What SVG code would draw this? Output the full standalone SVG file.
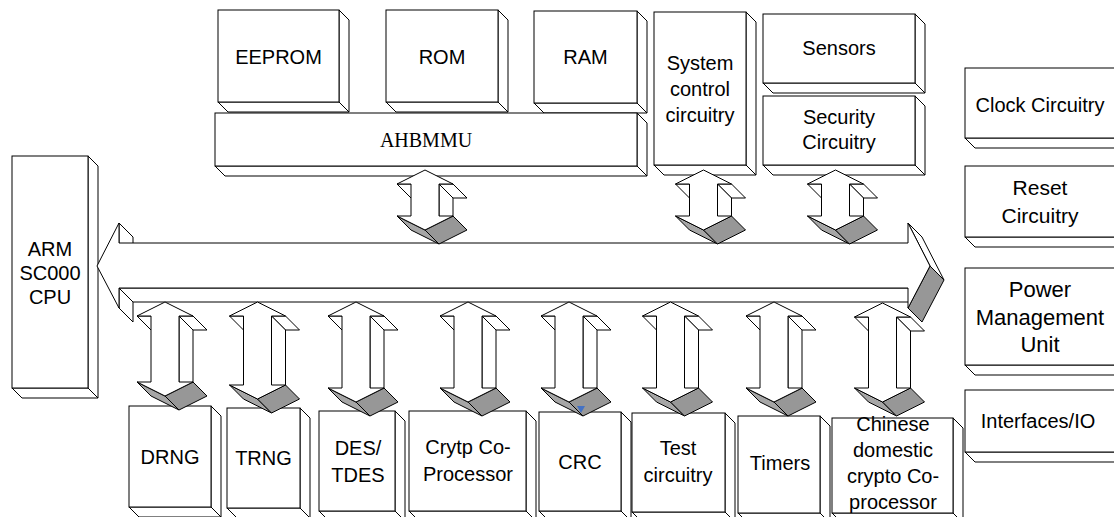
<svg xmlns="http://www.w3.org/2000/svg" width="1114" height="517" viewBox="0 0 1114 517">
<style>
.f{fill:#fff;stroke:#000;stroke-width:1;stroke-linejoin:miter}
.g1{fill:#a6a6a6;stroke:#000;stroke-width:1}
.g2{fill:#979797;stroke:#000;stroke-width:1}
.t{font-family:"Liberation Sans",Arial,sans-serif;font-size:20px;text-anchor:middle;fill:#000}
.s{font-family:"Liberation Serif","Times New Roman",serif;font-size:20px;text-anchor:middle;fill:#000}
</style>
<rect width="1114" height="517" fill="#fff"/>

<g id="eeprom">
<polygon class="f" points="339,10 349,20 349,112 339,102"/>
<polygon class="f" points="218,102 339,102 349,112 228,112"/>
<rect class="f" x="218" y="10" width="121" height="92"/>
<text class="t" x="278.5" y="64">EEPROM</text>
</g>
<g id="rom">
<polygon class="f" points="498,10 508,20 508,112 498,102"/>
<polygon class="f" points="386,102 498,102 508,112 396,112"/>
<rect class="f" x="386" y="10" width="112" height="92"/>
<text class="t" x="442" y="64">ROM</text>
</g>
<g id="ram">
<polygon class="f" points="637,11 647,21 647,113 637,103"/>
<polygon class="f" points="534,103 637,103 647,113 544,113"/>
<rect class="f" x="534" y="11" width="103" height="92"/>
<text class="t" x="585.5" y="64">RAM</text>
</g>
<g id="ahbmmu">
<polygon class="f" points="637,113 647,123 647,176 637,166"/>
<polygon class="f" points="215,166 637,166 647,176 225,176"/>
<rect class="f" x="215" y="113" width="422" height="53"/>
<text class="s" x="426" y="147">AHBMMU</text>
</g>
<g id="system-control">
<polygon class="f" points="746,12 756,22 756,175 746,165"/>
<polygon class="f" points="654,165 746,165 756,175 664,175"/>
<rect class="f" x="654" y="12" width="92" height="153"/>
<text class="t" x="700" y="70">System</text>
<text class="t" x="700" y="96">control</text>
<text class="t" x="700" y="122">circuitry</text>
</g>
<g id="sensors">
<polygon class="f" points="915,14 925,24 925,93 915,83"/>
<polygon class="f" points="763,83 915,83 925,93 773,93"/>
<rect class="f" x="763" y="14" width="152" height="69"/>
<text class="t" x="839" y="55">Sensors</text>
</g>
<g id="security">
<polygon class="f" points="915,96 925,106 925,175 915,165"/>
<polygon class="f" points="763,165 915,165 925,175 773,175"/>
<rect class="f" x="763" y="96" width="152" height="69"/>
<text class="t" x="839" y="124">Security</text>
<text class="t" x="839" y="149">Circuitry</text>
</g>
<g id="arm-cpu">
<polygon class="f" points="88,156 98,166 98,398 88,388"/>
<polygon class="f" points="12,388 88,388 98,398 22,398"/>
<rect class="f" x="12" y="156" width="76" height="232"/>
<text class="t" x="50" y="256">ARM</text>
<text class="t" x="50" y="280">SC000</text>
<text class="t" x="50" y="304">CPU</text>
</g>
<g id="clock">
<polygon class="f" points="965,138 1120,138 1130,148 975,148"/>
<rect class="f" x="965" y="68" width="155" height="70"/>
<text class="t" x="1040" y="112">Clock Circuitry</text>
</g>
<g id="reset">
<polygon class="f" points="965,237 1120,237 1130,247 975,247"/>
<rect class="f" x="965" y="166" width="155" height="71"/>
<text class="t" x="1040" y="195" style="font-size:21px">Reset</text>
<text class="t" x="1040" y="223" style="font-size:21px">Circuitry</text>
</g>
<g id="power">
<polygon class="f" points="965,365 1120,365 1130,375 975,375"/>
<rect class="f" x="965" y="268" width="155" height="97"/>
<text class="t" x="1040" y="297" style="font-size:22px">Power</text>
<text class="t" x="1040" y="325" style="font-size:22px">Management</text>
<text class="t" x="1040" y="352" style="font-size:22px">Unit</text>
</g>
<g id="interfaces">
<polygon class="f" points="965,452 1120,452 1130,462 975,462"/>
<rect class="f" x="965" y="390" width="155" height="62"/>
<text class="t" x="1038" y="428">Interfaces/IO</text>
</g>

<g id="drng">
<polygon class="f" points="211,406 221,416 221,517 211,507"/>
<polygon class="f" points="129,507 211,507 221,517 139,517"/>
<rect class="f" x="129" y="406" width="82" height="101"/>
<text class="t" x="170" y="464">DRNG</text>
</g>
<g id="trng">
<polygon class="f" points="300,408 310,418 310,518 300,508"/>
<polygon class="f" points="227,508 300,508 310,518 237,518"/>
<rect class="f" x="227" y="408" width="73" height="100"/>
<text class="t" x="263.5" y="465">TRNG</text>
</g>
<g id="des-tdes">
<polygon class="f" points="395,411 405,421 405,521 395,511"/>
<polygon class="f" points="319,511 395,511 405,521 329,521"/>
<rect class="f" x="319" y="411" width="76" height="100"/>
<text class="t" x="358" y="455">DES/</text>
<text class="t" x="358" y="481.5">TDES</text>
</g>
<g id="crypto-coprocessor">
<polygon class="f" points="526,411 536,421 536,521 526,511"/>
<polygon class="f" points="409,511 526,511 536,521 419,521"/>
<rect class="f" x="409" y="411" width="117" height="100"/>
<text class="t" x="468" y="453.5">Crytp Co-</text>
<text class="t" x="468" y="480.5">Processor</text>
</g>
<g id="crc">
<polygon class="f" points="621,412 631,422 631,521 621,511"/>
<polygon class="f" points="539,511 621,511 631,521 549,521"/>
<rect class="f" x="539" y="412" width="82" height="99"/>
<text class="t" x="580" y="469">CRC</text>
</g>
<g id="test">
<polygon class="f" points="725,413 735,423 735,522 725,512"/>
<polygon class="f" points="632,512 725,512 735,522 642,522"/>
<rect class="f" x="632" y="413" width="93" height="99"/>
<text class="t" x="678" y="455">Test</text>
<text class="t" x="678" y="481.5">circuitry</text>
</g>
<g id="timers">
<polygon class="f" points="820,416 830,426 830,523 820,513"/>
<polygon class="f" points="738,513 820,513 830,523 748,523"/>
<rect class="f" x="738" y="416" width="82" height="97"/>
<text class="t" x="780" y="470">Timers</text>
</g>
<g id="chinese-crypto">
<polygon class="f" points="953,418 963,428 963,523 953,513"/>
<polygon class="f" points="832,513 953,513 963,523 842,523"/>
<rect class="f" x="832" y="418" width="121" height="95"/>
<text class="t" x="893" y="431">Chinese</text>
<text class="t" x="893" y="457">domestic</text>
<text class="t" x="893" y="483">crypto Co-</text>
<text class="t" x="893" y="509">processor</text>
</g>

<g id="connectors">
<g id="bus">
<polygon class="f" points="119,223 133,237 133,257 119,243"/>
<polygon class="f" points="119,288 133,302 133,322 119,308"/>
<polygon class="f" points="119,288 908,288 922,302 133,302"/>
<polygon class="f" points="908,223 922,237 944,280 930,266"/>
<polygon class="g2" points="930,266 944,280 922,322 908,308"/>
<polygon class="f" points="97,266 119,223 119,243 908,243 908,223 930,266 908,308 908,288 119,288 119,308"/>
</g>
<g id="arrow-ahbmmu" transform="translate(425,170)">
<polygon class="f" points="-28,14 -14,14 0,28 -14,28"/>
<polygon class="f" points="14,14 28,14 42,28 28,28"/>
<polygon class="f" points="14,14 28,28 28,60 14,46"/>
<polygon class="g1" points="-28,46 0,60 14,74 -14,60"/>
<polygon class="g2" points="0,60 28,46 42,60 14,74"/>
<polygon class="f" points="0,0 28,14 14,14 14,46 28,46 0,60 -28,46 -14,46 -14,14 -28,14"/>
</g>
<g id="arrow-system" transform="translate(703.5,170)">
<polygon class="f" points="-28,14 -14,14 0,28 -14,28"/>
<polygon class="f" points="14,14 28,14 42,28 28,28"/>
<polygon class="f" points="14,14 28,28 28,60 14,46"/>
<polygon class="g1" points="-28,46 0,60 14,74 -14,60"/>
<polygon class="g2" points="0,60 28,46 42,60 14,74"/>
<polygon class="f" points="0,0 28,14 14,14 14,46 28,46 0,60 -28,46 -14,46 -14,14 -28,14"/>
</g>
<g id="arrow-security" transform="translate(835.5,170)">
<polygon class="f" points="-28,14 -14,14 0,28 -14,28"/>
<polygon class="f" points="14,14 28,14 42,28 28,28"/>
<polygon class="f" points="14,14 28,28 28,60 14,46"/>
<polygon class="g1" points="-28,46 0,60 14,74 -14,60"/>
<polygon class="g2" points="0,60 28,46 42,60 14,74"/>
<polygon class="f" points="0,0 28,14 14,14 14,46 28,46 0,60 -28,46 -14,46 -14,14 -28,14"/>
</g>
<g id="arrow-drng" transform="translate(165,302)">
<polygon class="f" points="-28,14 -14,14 0,28 -14,28"/>
<polygon class="f" points="14,14 28,14 42,28 28,28"/>
<polygon class="f" points="14,14 28,28 28,94 14,80"/>
<polygon class="g1" points="-28,80 0,94 14,108 -14,94"/>
<polygon class="g2" points="0,94 28,80 42,94 14,108"/>
<polygon class="f" points="0,0 28,14 14,14 14,80 28,80 0,94 -28,80 -14,80 -14,14 -28,14"/>
</g>
<g id="arrow-trng" transform="translate(257.5,302)">
<polygon class="f" points="-28,14 -14,14 0,28 -14,28"/>
<polygon class="f" points="14,14 28,14 42,28 28,28"/>
<polygon class="f" points="14,14 28,28 28,97 14,83"/>
<polygon class="g1" points="-28,83 0,97 14,111 -14,97"/>
<polygon class="g2" points="0,97 28,83 42,97 14,111"/>
<polygon class="f" points="0,0 28,14 14,14 14,83 28,83 0,97 -28,83 -14,83 -14,14 -28,14"/>
</g>
<g id="arrow-des" transform="translate(356,302)">
<polygon class="f" points="-28,14 -14,14 0,28 -14,28"/>
<polygon class="f" points="14,14 28,14 42,28 28,28"/>
<polygon class="f" points="14,14 28,28 28,100 14,86"/>
<polygon class="g1" points="-28,86 0,100 14,114 -14,100"/>
<polygon class="g2" points="0,100 28,86 42,100 14,114"/>
<polygon class="f" points="0,0 28,14 14,14 14,86 28,86 0,100 -28,86 -14,86 -14,14 -28,14"/>
</g>
<g id="arrow-crypto" transform="translate(468,302)">
<polygon class="f" points="-28,14 -14,14 0,28 -14,28"/>
<polygon class="f" points="14,14 28,14 42,28 28,28"/>
<polygon class="f" points="14,14 28,28 28,100 14,86"/>
<polygon class="g1" points="-28,86 0,100 14,114 -14,100"/>
<polygon class="g2" points="0,100 28,86 42,100 14,114"/>
<polygon class="f" points="0,0 28,14 14,14 14,86 28,86 0,100 -28,86 -14,86 -14,14 -28,14"/>
</g>
<g id="arrow-crc" transform="translate(569,302)">
<polygon class="f" points="-28,14 -14,14 0,28 -14,28"/>
<polygon class="f" points="14,14 28,14 42,28 28,28"/>
<polygon class="f" points="14,14 28,28 28,100 14,86"/>
<polygon class="g1" points="-28,86 0,100 14,114 -14,100"/>
<polygon class="g2" points="0,100 28,86 42,100 14,114"/>
<polygon class="f" points="0,0 28,14 14,14 14,86 28,86 0,100 -28,86 -14,86 -14,14 -28,14"/>
<polygon points="8,104 16,104 12,111" fill="#4472c4"/>
</g>
<g id="arrow-test" transform="translate(670.5,302)">
<polygon class="f" points="-28,14 -14,14 0,28 -14,28"/>
<polygon class="f" points="14,14 28,14 42,28 28,28"/>
<polygon class="f" points="14,14 28,28 28,100 14,86"/>
<polygon class="g1" points="-28,86 0,100 14,114 -14,100"/>
<polygon class="g2" points="0,100 28,86 42,100 14,114"/>
<polygon class="f" points="0,0 28,14 14,14 14,86 28,86 0,100 -28,86 -14,86 -14,14 -28,14"/>
</g>
<g id="arrow-timers" transform="translate(774,302)">
<polygon class="f" points="-28,14 -14,14 0,28 -14,28"/>
<polygon class="f" points="14,14 28,14 42,28 28,28"/>
<polygon class="f" points="14,14 28,28 28,100 14,86"/>
<polygon class="g1" points="-28,86 0,100 14,114 -14,100"/>
<polygon class="g2" points="0,100 28,86 42,100 14,114"/>
<polygon class="f" points="0,0 28,14 14,14 14,86 28,86 0,100 -28,86 -14,86 -14,14 -28,14"/>
</g>
<g id="arrow-chinese" transform="translate(882.5,303)">
<polygon class="f" points="-28,14 -14,14 0,28 -14,28"/>
<polygon class="f" points="14,14 28,14 42,28 28,28"/>
<polygon class="f" points="14,14 28,28 28,99 14,85"/>
<polygon class="g1" points="-28,85 0,99 14,113 -14,99"/>
<polygon class="g2" points="0,99 28,85 42,99 14,113"/>
<polygon class="f" points="0,0 28,14 14,14 14,85 28,85 0,99 -28,85 -14,85 -14,14 -28,14"/>
</g>
</g>
</svg>
